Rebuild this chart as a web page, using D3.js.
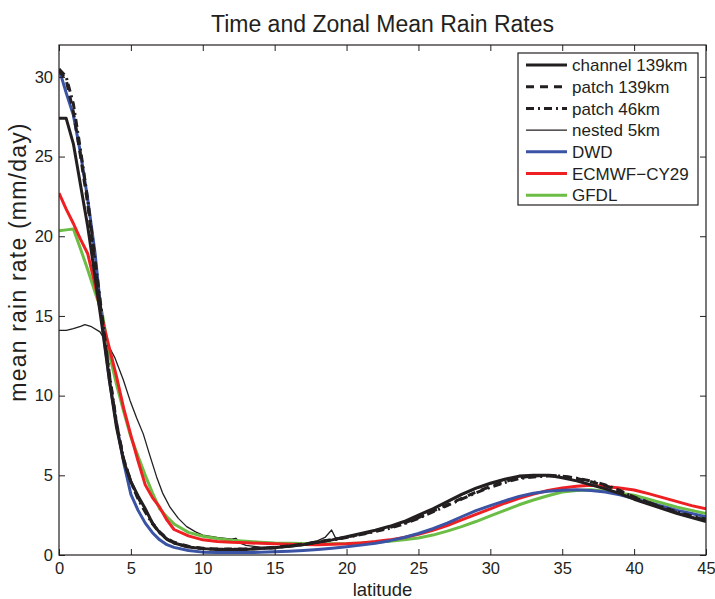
<!DOCTYPE html>
<html>
<head>
<meta charset="utf-8">
<script src="https://cdn.jsdelivr.net/npm/d3@7"></script>
<style>
  body { margin: 0; background: #fff; }
  text { font-family: "Liberation Sans", Arial, Helvetica, sans-serif; fill: #231f20; }
</style>
</head>
<body>
<div id="chart"></div>
<script>
// latitude grid shared by most series
const lat = [0,0.5,1,1.5,2,2.5,3,3.5,4,4.5,5,5.5,6,6.5,7,7.5,8,9,10,11,12,13,14,15,16,17,18,19,20,
  21,22,23,24,25,26,27,28,29,30,31,32,33,34,35,36,37,38,39,40,41,42,43,44,45];

const channel139 = [27.4,27.4,25.8,23.2,20.6,17.5,14.3,11.0,8.0,5.9,4.6,3.7,2.9,2.0,1.4,1.0,0.75,0.5,0.4,
  0.35,0.35,0.35,0.4,0.45,0.55,0.65,0.8,0.95,1.15,1.35,1.55,1.8,2.1,2.5,2.9,3.35,3.8,4.2,4.5,4.75,
  4.95,5.0,5.0,4.85,4.65,4.4,4.15,3.85,3.5,3.2,2.9,2.6,2.35,2.1];

const patch139 = [30.4,29.8,27.8,25.0,22.0,18.2,14.8,11.3,8.2,6.0,4.6,3.6,2.8,2.0,1.45,1.05,0.8,0.55,0.42,
  0.38,0.37,0.38,0.42,0.48,0.57,0.68,0.82,0.97,1.12,1.3,1.5,1.72,2.0,2.35,2.75,3.15,3.55,3.95,4.3,4.6,
  4.85,4.95,5.0,4.95,4.8,4.6,4.35,4.0,3.65,3.3,2.95,2.65,2.4,2.2];

const patch46 = [30.5,30.0,28.3,25.4,22.3,18.6,15.0,11.4,8.3,6.0,4.6,3.5,2.7,1.95,1.4,1.0,0.75,0.5,0.4,
  0.36,0.36,0.37,0.41,0.46,0.55,0.66,0.8,0.95,1.1,1.28,1.47,1.68,1.95,2.3,2.7,3.1,3.5,3.9,4.25,4.55,
  4.8,4.9,4.95,4.95,4.82,4.65,4.4,4.05,3.6,3.3,3.0,2.7,2.45,2.25];

const dwd = [30.5,29.0,27.6,25.2,22.3,19.0,14.6,11.0,8.2,5.8,3.8,2.8,2.0,1.4,0.95,0.65,0.48,0.28,0.18,
  0.15,0.15,0.15,0.17,0.2,0.24,0.29,0.35,0.43,0.52,0.62,0.74,0.9,1.1,1.35,1.65,2.0,2.4,2.78,3.1,3.4,
  3.68,3.88,4.0,4.07,4.1,4.05,3.95,3.78,3.55,3.3,3.05,2.8,2.6,2.4];

const ecmwf = [22.7,21.7,20.8,19.8,18.9,17.0,14.8,13.0,11.2,9.2,7.5,5.9,4.4,3.6,3.0,2.2,1.6,1.2,0.95,
  0.85,0.8,0.77,0.73,0.7,0.68,0.66,0.65,0.67,0.7,0.76,0.84,0.95,1.1,1.3,1.55,1.85,2.2,2.55,2.9,3.25,
  3.55,3.82,4.05,4.2,4.32,4.37,4.3,4.2,4.08,3.85,3.6,3.35,3.1,2.9];

const gfdl = [20.35,20.4,20.45,19.2,17.9,16.5,15.2,12.6,10.7,9.0,7.4,6.2,5.0,3.9,2.9,2.4,1.95,1.42,1.18,
  1.03,0.93,0.86,0.8,0.75,0.73,0.72,0.71,0.71,0.72,0.75,0.8,0.87,0.96,1.07,1.25,1.5,1.78,2.1,2.45,2.8,
  3.15,3.45,3.72,3.95,4.05,4.1,4.0,3.88,3.75,3.5,3.25,3.0,2.8,2.6];

// nested run has its own grid (spike near 19N)
const latNested = [0,0.5,1,1.5,1.8,2.2,2.85,3.4,3.9,4.47,4.94,5.4,5.86,6.3,6.79,7.2,7.72,8.3,8.88,9.5,10,
  11,12,12.3,12.6,13,14,15,16,17,18,18.5,18.96,19.3,20,21,22,23,24,25,26,27,28,29,30,31,32,33,34,35,
  36,37,38,39,40,41,42,43,44,45];
const nested5 = [14.1,14.1,14.2,14.35,14.45,14.35,14.0,13.2,12.35,11.0,9.7,8.6,7.6,6.3,4.9,3.9,3.0,2.3,1.78,
  1.45,1.25,1.1,1.0,1.05,0.75,0.6,0.5,0.5,0.55,0.7,0.9,1.1,1.57,0.95,1.15,1.35,1.55,1.8,2.1,2.45,2.85,
  3.3,3.75,4.15,4.45,4.7,4.9,5.0,4.98,4.85,4.65,4.45,4.2,3.9,3.55,3.25,2.95,2.65,2.4,2.2];

const xTicks = [0,5,10,15,20,25,30,35,40,45];
const yTicks = [0,5,10,15,20,25,30];

const series = [
  {name: "channel 139km", x: lat, y: channel139, color: "#231f20", width: 3, dash: null},
  {name: "patch 139km", x: lat, y: patch139, color: "#231f20", width: 3, dash: "8,6"},
  {name: "patch 46km", x: lat, y: patch46, color: "#231f20", width: 3, dash: "8,4,2,4"},
  {name: "nested 5km", x: latNested, y: nested5, color: "#231f20", width: 1.3, dash: null},
  {name: "DWD", x: lat, y: dwd, color: "#3a53a4", width: 3, dash: null},
  {name: "ECMWF-CY29", x: lat, y: ecmwf, color: "#ee2024", width: 3, dash: null},
  {name: "GFDL", x: lat, y: gfdl, color: "#6cbd45", width: 3, dash: null}
];

const W = 715, H = 599;
const margin = {top: 45, right: 9, bottom: 44, left: 59},
    width = W - margin.left - margin.right,
    height = H - margin.top - margin.bottom;

const svg = d3.select("#chart")
  .append("svg")
    .attr("width", W)
    .attr("height", H)
  .append("g")
    .attr("transform", `translate(${margin.left},${margin.top})`);

const x = d3.scaleLinear().domain([0, 45]).range([0, width]);
const y = d3.scaleLinear().domain([0, 32]).range([height, 0]);

svg.append("defs").append("clipPath").attr("id", "clip")
  .append("rect").attr("width", width).attr("height", height);

// lines
const line = d3.line()
  .x(d => x(d[0]))
  .y(d => y(d[1]));

const order = [3, 6, 5, 4, 2, 1, 0];
svg.append("g").attr("clip-path", "url(#clip)")
  .selectAll("path")
  .data(order.map(i => series[i]))
  .join("path")
    .attr("d", s => line(s.x.map((v, i) => [v, s.y[i]])))
    .attr("fill", "none")
    .attr("stroke", s => s.color)
    .attr("stroke-width", s => s.width)
    .attr("stroke-dasharray", s => s.dash)
    .attr("stroke-linejoin", "round");

// axes, matlab style: ticks inward on all four sides
const tickLen = 6;
svg.append("g")
  .attr("transform", `translate(0,${height})`)
  .call(d3.axisBottom(x).tickValues(xTicks).tickSize(-tickLen).tickPadding(7))
  .call(g => g.selectAll("text").attr("font-size", "16.5px").attr("dy", "0.75em"));
svg.append("g")
  .call(d3.axisTop(x).tickValues(xTicks).tickSize(-tickLen).tickFormat(""));
svg.append("g")
  .call(d3.axisLeft(y).tickValues(yTicks).tickSize(-tickLen).tickPadding(6))
  .call(g => g.selectAll("text").attr("font-size", "16.5px"));
svg.append("g")
  .attr("transform", `translate(${width},0)`)
  .call(d3.axisRight(y).tickValues(yTicks).tickSize(-tickLen).tickFormat(""));

svg.selectAll(".domain").remove();
svg.selectAll(".tick line").attr("stroke", "#231f20");
svg.selectAll(".tick text").attr("fill", "#231f20").attr("font-family", null);

svg.append("rect")
  .attr("width", width).attr("height", height)
  .attr("fill", "none").attr("stroke", "#231f20").attr("stroke-width", 1.2);

// title and labels
svg.append("text")
  .attr("x", width / 2).attr("y", -13)
  .attr("text-anchor", "middle")
  .attr("font-size", "23px")
  .text("Time and Zonal Mean Rain Rates");

svg.append("text")
  .attr("x", width / 2).attr("y", height + 41)
  .attr("text-anchor", "middle")
  .attr("font-size", "18.5px")
  .text("latitude");

svg.append("text")
  .attr("transform", `translate(${26 - margin.left},${262 - margin.top}) rotate(-90)`)
  .attr("text-anchor", "middle")
  .attr("font-size", "23px")
  .attr("letter-spacing", "1.2px")
  .text("mean rain rate (mm/day)");

// legend
const lg = svg.append("g").attr("transform", `translate(${518 - margin.left},${53 - margin.top})`);
lg.append("rect")
  .attr("width", 180).attr("height", 152)
  .attr("fill", "#fff").attr("stroke", "#231f20").attr("stroke-width", 1.2);

const row = lg.selectAll(".row")
  .data(series)
  .join("g")
    .attr("class", "row")
    .attr("transform", (d, i) => `translate(0,${12 + i * 21.7})`);
row.append("line")
  .attr("x1", 8).attr("x2", 49)
  .attr("stroke", d => d.color)
  .attr("stroke-width", d => d.width)
  .attr("stroke-dasharray", d => d.dash);
row.append("text")
  .attr("x", 54).attr("dy", "0.36em")
  .attr("font-size", "17px")
  .text(d => d.name.replace("-", "\u2212"));
</script>
</body>
</html>
